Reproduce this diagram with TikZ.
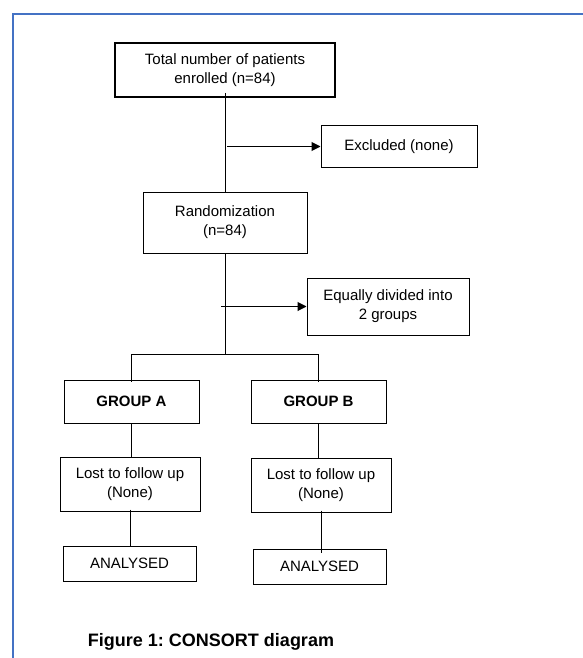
\documentclass[tikz,border=0pt]{standalone}
\usepackage{fontspec}
\setmainfont{Liberation Sans}
\usetikzlibrary{arrows.meta}
\definecolor{frameblue}{RGB}{68,114,196}
\frenchspacing
\begin{document}
\begin{tikzpicture}[x=1pt,y=-1pt,
    box/.style={draw,line width=1pt,inner sep=0pt,align=center,
      font=\fontsize{15}{19}\selectfont},
    link/.style={line width=1pt},
    tip/.style={link,-{Triangle[length=9pt,width=9pt]}}]
        \useasboundingbox (0,0) rectangle (583,658);
        \draw[line width=2pt,frameblue] (13,658) -- (13,14) -- (583,14);
        \node[box,line width=2pt,minimum width=220pt,minimum height=54pt] (top) at (225,70) {Total number of patients\\enrolled (n=84)};
        \node[box,minimum width=156pt,minimum height=41pt] (excl) at (399,146.5) {Excluded (none)};
        \node[box,minimum width=164pt,minimum height=61pt] (rand) at (225,222.5) {Randomization\\(n=84)};
        \node[box,minimum width=162pt,minimum height=57pt] (eq) at (388,306.5) {Equally divided into\\2 groups};
        \node[box,minimum width=135pt,minimum height=43pt,font=\fontsize{15}{19}\selectfont\bfseries] (ga) at (131.5,401.5) {GROUP A};
        \node[box,minimum width=135pt,minimum height=43pt,font=\fontsize{15}{19}\selectfont\bfseries] (gb) at (318.5,401.5) {GROUP B};
        \node[box,minimum width=140pt,minimum height=54pt] (la) at (130,484) {Lost to follow up\\(None)};
        \node[box,minimum width=140pt,minimum height=54pt] (lb) at (321,485) {Lost to follow up\\(None)};
        \node[box,minimum width=133pt,minimum height=35pt] (aa) at (129.5,563.5) {ANALYSED};
        \node[box,minimum width=133pt,minimum height=35pt] (ab) at (319.5,566.5) {ANALYSED};
        \node[font=\fontsize{18}{22}\selectfont\bfseries] (cap) at (211,642) {Figure 1: CONSORT diagram};
        \coordinate (split) at (225,354);
        \draw[link] ([yshift=5pt]top.south) -- (rand.north);
        \draw[tip] ([xshift=2pt]top.south |- excl.west) -- (excl.west);
        \draw[link] (rand.south) -- (split);
        \draw[tip] ([xshift=-4pt]rand.south |- eq.west) -- (eq.west);
        \draw[link] (ga.north |- split) -- (gb.north |- split);
        \draw[link] (ga.north |- split) -- ([yshift=-2pt]ga.north);
        \draw[link] (gb.north |- split) -- ([yshift=-2pt]gb.north);
        \draw[link] (ga.south) -- (ga.south |- la.north);
        \draw[link] (gb.south) -- (gb.south |- lb.north);
        \draw[link] ([yshift=2pt]la.south) -- (la.south |- aa.north);
        \draw[link] ([yshift=2pt]lb.south) -- ([yshift=-4pt]lb.south |- ab.north);
    \end{tikzpicture}
\end{document}
